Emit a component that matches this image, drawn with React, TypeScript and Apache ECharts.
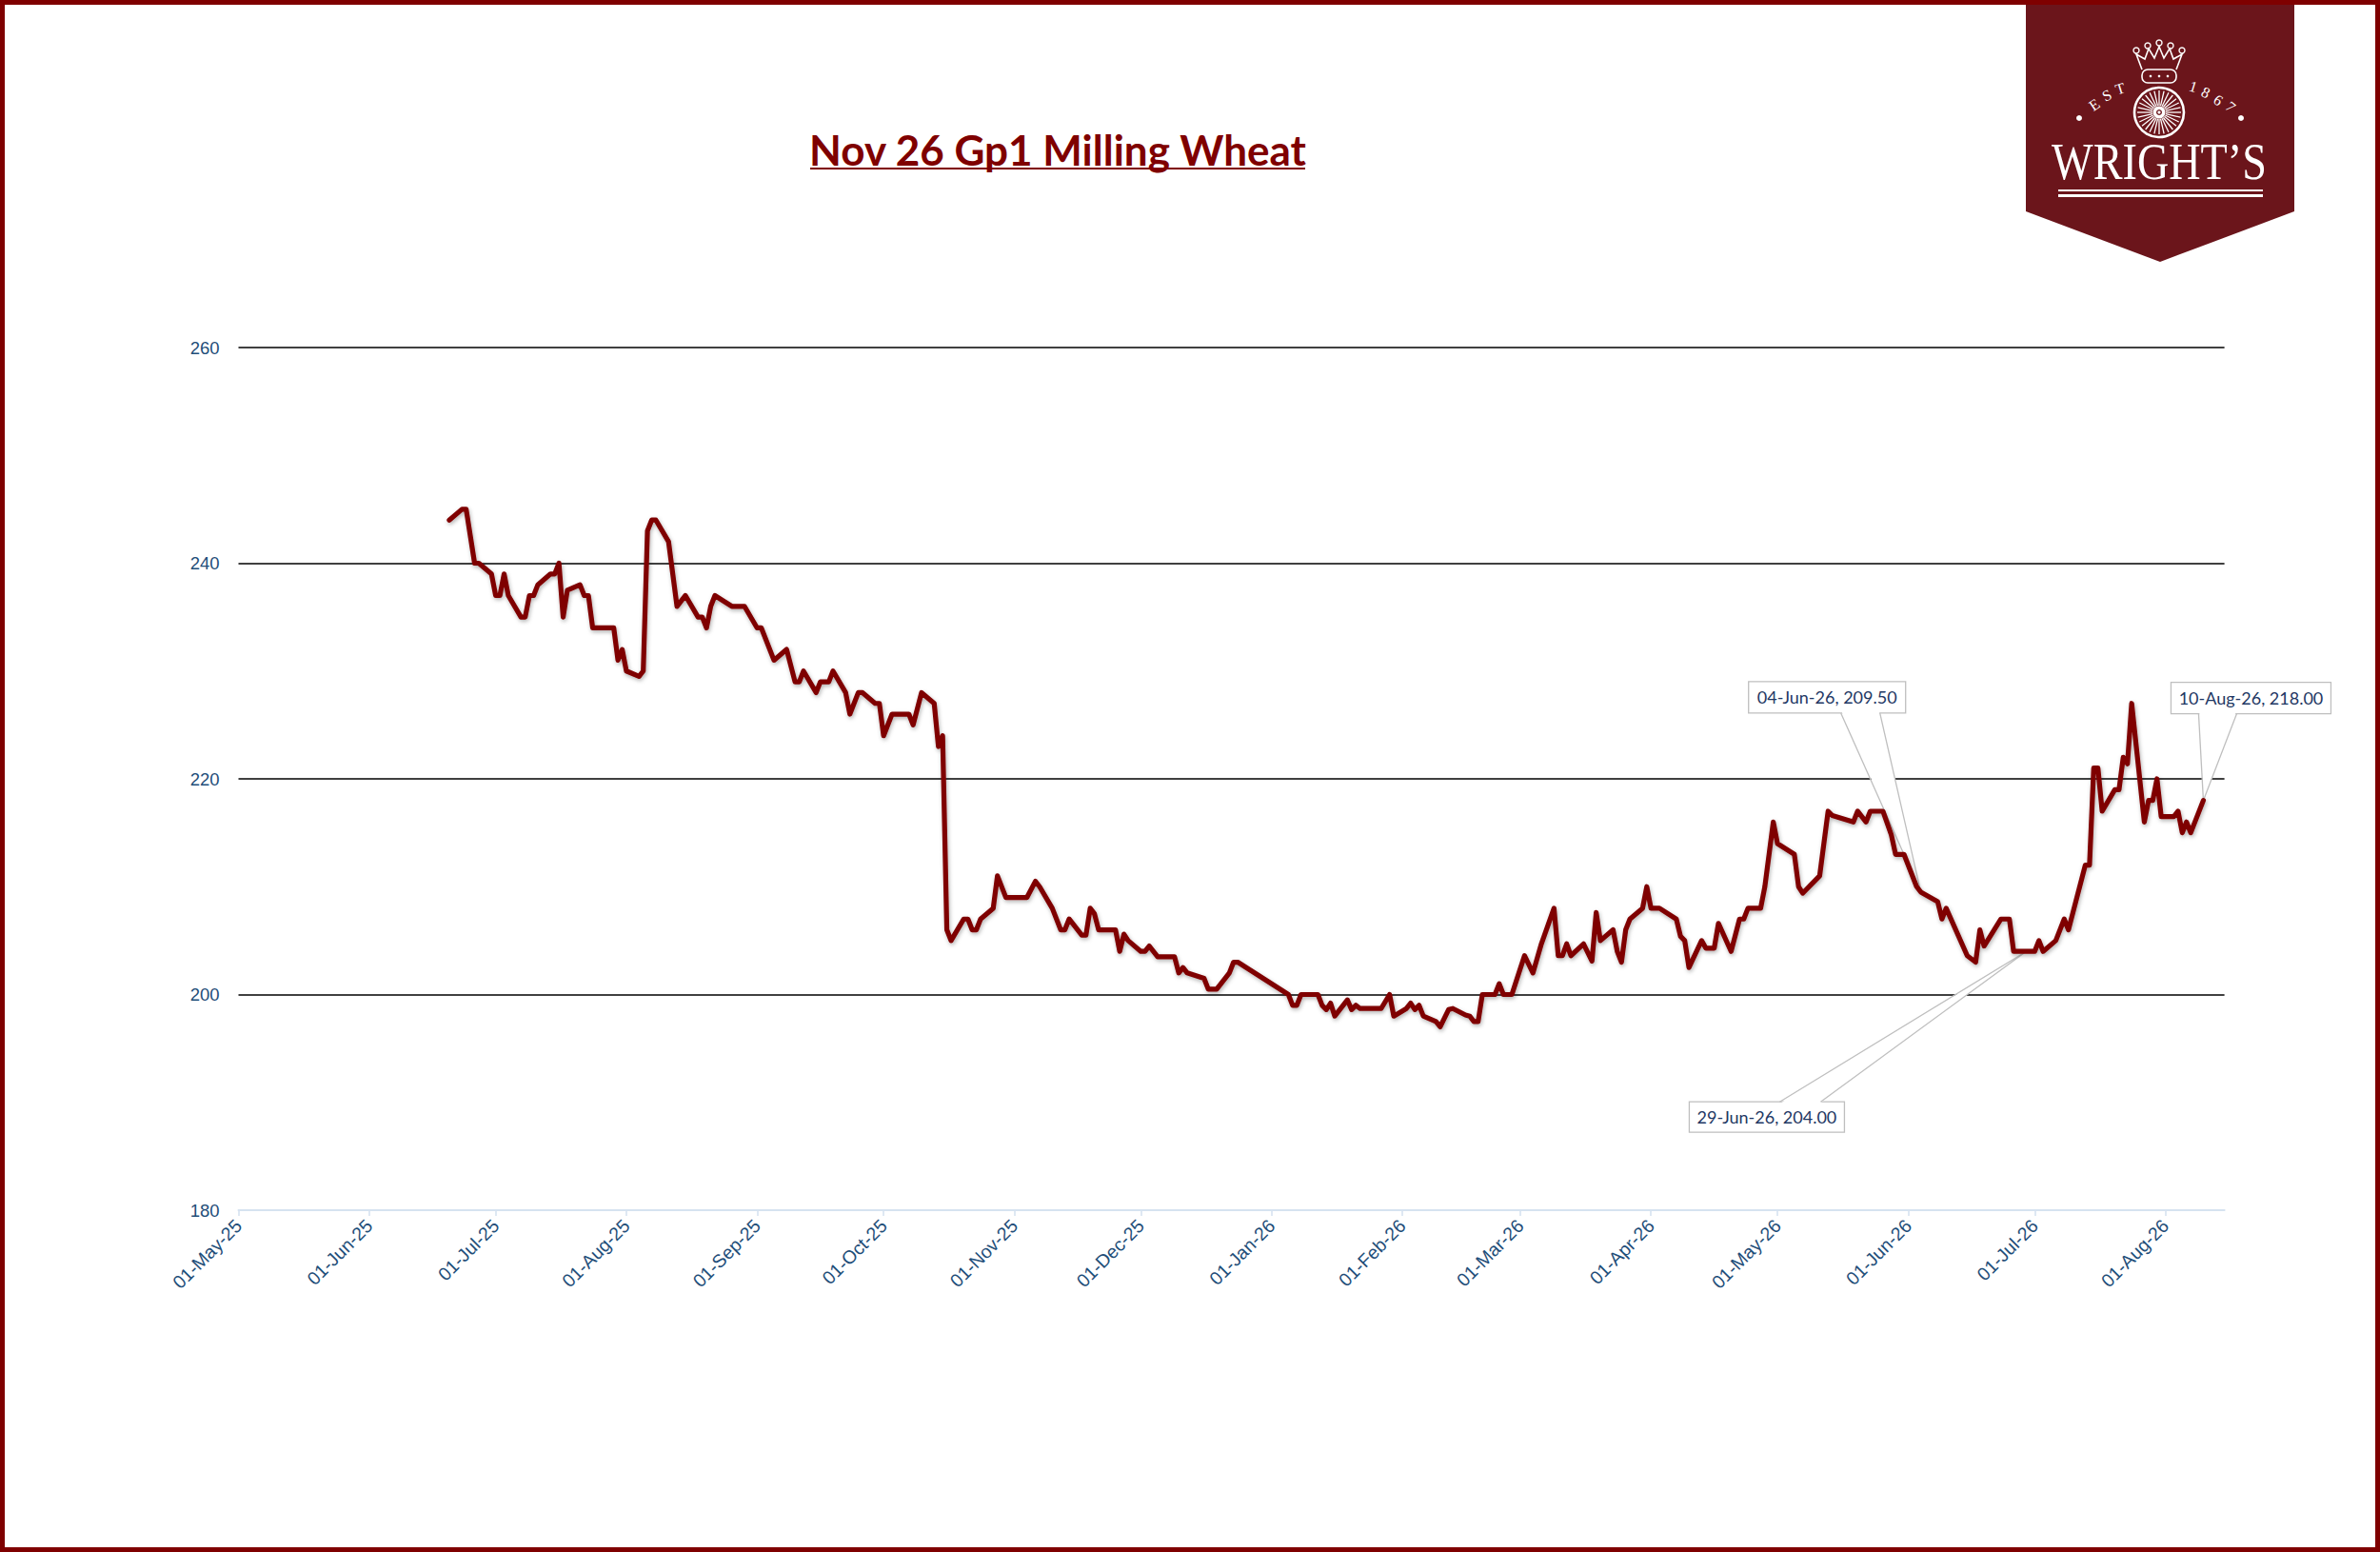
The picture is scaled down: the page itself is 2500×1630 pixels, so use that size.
import React, { useEffect, useRef } from "react";
import * as echarts from "echarts";

const TITLE = "Nov 26 Gp1 Milling Wheat";
const AXIS_MIN_DATE = "2025-05-01";
const AXIS_MAX_DATE = "2026-08-15";
const MONTH_TICKS = [
  "2025-05-01", "2025-06-01", "2025-07-01", "2025-08-01", "2025-09-01", "2025-10-01",
  "2025-11-01", "2025-12-01", "2026-01-01", "2026-02-01", "2026-03-01", "2026-04-01",
  "2026-05-01", "2026-06-01", "2026-07-01", "2026-08-01",
];
const Y_MIN = 180;
const Y_MAX = 260;
const Y_STEP = 20;

// [date, price] – Nov 26 Gp1 Milling Wheat
const PRICES_SUMMER_2025: [string, number][] = [
  ["2025-06-20", 244], ["2025-06-23", 245], ["2025-06-24", 245], ["2025-06-26", 240], ["2025-06-27", 240],
  ["2025-06-30", 239], ["2025-07-01", 237], ["2025-07-02", 237], ["2025-07-03", 239], ["2025-07-04", 237],
  ["2025-07-07", 235], ["2025-07-08", 235], ["2025-07-09", 237], ["2025-07-10", 237], ["2025-07-11", 238],
  ["2025-07-14", 239], ["2025-07-15", 239], ["2025-07-16", 240], ["2025-07-17", 235], ["2025-07-18", 237.5],
  ["2025-07-21", 238], ["2025-07-22", 237], ["2025-07-23", 237], ["2025-07-24", 234], ["2025-07-29", 234],
  ["2025-07-30", 231], ["2025-07-31", 232], ["2025-08-01", 230], ["2025-08-04", 229.5], ["2025-08-05", 230],
  ["2025-08-06", 243], ["2025-08-07", 244], ["2025-08-08", 244], ["2025-08-11", 242], ["2025-08-13", 236],
  ["2025-08-15", 237], ["2025-08-18", 235], ["2025-08-19", 235], ["2025-08-20", 234], ["2025-08-21", 236],
  ["2025-08-22", 237], ["2025-08-26", 236], ["2025-08-29", 236], ["2025-09-01", 234], ["2025-09-02", 234],
  ["2025-09-05", 231], ["2025-09-08", 232], ["2025-09-10", 229], ["2025-09-11", 229], ["2025-09-12", 230],
  ["2025-09-15", 228], ["2025-09-16", 229], ["2025-09-18", 229], ["2025-09-19", 230], ["2025-09-22", 228],
  ["2025-09-23", 226], ["2025-09-25", 228], ["2025-09-26", 228], ["2025-09-29", 227], ["2025-09-30", 227],
];
const PRICES_AUTUMN_2025: [string, number][] = [
  ["2025-10-01", 224], ["2025-10-03", 226], ["2025-10-07", 226], ["2025-10-08", 225], ["2025-10-10", 228],
  ["2025-10-13", 227], ["2025-10-14", 223], ["2025-10-15", 224], ["2025-10-16", 206], ["2025-10-17", 205],
  ["2025-10-20", 207], ["2025-10-21", 207], ["2025-10-22", 206], ["2025-10-23", 206], ["2025-10-24", 207],
  ["2025-10-27", 208], ["2025-10-28", 211], ["2025-10-30", 209], ["2025-11-04", 209], ["2025-11-06", 210.5],
  ["2025-11-07", 210], ["2025-11-10", 208], ["2025-11-12", 206], ["2025-11-13", 206], ["2025-11-14", 207],
  ["2025-11-17", 205.5], ["2025-11-18", 205.5], ["2025-11-19", 208], ["2025-11-20", 207.5], ["2025-11-21", 206],
  ["2025-11-25", 206], ["2025-11-26", 204], ["2025-11-27", 205.6], ["2025-11-28", 205], ["2025-12-01", 204],
  ["2025-12-02", 204], ["2025-12-03", 204.5], ["2025-12-05", 203.5], ["2025-12-09", 203.5], ["2025-12-10", 202],
  ["2025-12-11", 202.5], ["2025-12-12", 202], ["2025-12-16", 201.5], ["2025-12-17", 200.5], ["2025-12-19", 200.5],
  ["2025-12-22", 202], ["2025-12-23", 203], ["2025-12-24", 203],
];
const PRICES_WINTER_2026: [string, number][] = [
  ["2026-01-05", 200], ["2026-01-06", 199], ["2026-01-07", 199], ["2026-01-08", 200], ["2026-01-12", 200],
  ["2026-01-13", 199], ["2026-01-14", 198.6], ["2026-01-15", 199.2], ["2026-01-16", 198], ["2026-01-19", 199.5],
  ["2026-01-20", 198.6], ["2026-01-21", 199], ["2026-01-22", 198.7], ["2026-01-27", 198.7], ["2026-01-29", 200],
  ["2026-01-30", 198], ["2026-02-02", 198.7], ["2026-02-03", 199.2], ["2026-02-04", 198.6], ["2026-02-05", 199],
  ["2026-02-06", 198], ["2026-02-09", 197.5], ["2026-02-10", 197], ["2026-02-12", 198.6], ["2026-02-13", 198.7],
  ["2026-02-16", 198.1], ["2026-02-17", 198], ["2026-02-18", 197.5], ["2026-02-19", 197.5], ["2026-02-20", 200],
  ["2026-02-23", 200], ["2026-02-24", 201], ["2026-02-25", 200], ["2026-02-27", 200], ["2026-03-02", 203.6],
  ["2026-03-04", 202], ["2026-03-06", 204.7], ["2026-03-09", 208], ["2026-03-10", 203.6], ["2026-03-11", 203.6],
  ["2026-03-12", 204.7], ["2026-03-13", 203.6], ["2026-03-16", 204.7], ["2026-03-18", 203.1], ["2026-03-19", 207.6],
  ["2026-03-20", 205], ["2026-03-23", 206], ["2026-03-24", 204], ["2026-03-25", 203], ["2026-03-26", 206],
  ["2026-03-27", 207], ["2026-03-30", 208], ["2026-03-31", 210], ["2026-04-01", 208], ["2026-04-03", 208],
  ["2026-04-07", 207], ["2026-04-08", 205.4], ["2026-04-09", 205], ["2026-04-10", 202.5], ["2026-04-13", 205],
  ["2026-04-14", 204.3], ["2026-04-16", 204.3], ["2026-04-17", 206.6], ["2026-04-20", 204], ["2026-04-22", 207],
  ["2026-04-23", 207], ["2026-04-24", 208], ["2026-04-27", 208], ["2026-04-28", 210], ["2026-04-30", 216],
];
const PRICES_SUMMER_2026: [string, number][] = [
  ["2026-05-01", 214], ["2026-05-05", 213], ["2026-05-06", 210], ["2026-05-07", 209.4], ["2026-05-11", 211],
  ["2026-05-13", 217], ["2026-05-14", 216.6], ["2026-05-19", 216], ["2026-05-20", 217], ["2026-05-22", 216],
  ["2026-05-23", 217], ["2026-05-26", 217], ["2026-05-28", 214.8], ["2026-05-29", 213], ["2026-05-31", 213],
  ["2026-06-03", 210], ["2026-06-04", 209.5], ["2026-06-08", 208.6], ["2026-06-09", 207], ["2026-06-10", 208],
  ["2026-06-15", 203.6], ["2026-06-17", 203], ["2026-06-18", 206], ["2026-06-19", 204.5], ["2026-06-23", 207],
  ["2026-06-25", 207], ["2026-06-26", 204], ["2026-06-29", 204], ["2026-07-01", 204], ["2026-07-02", 205],
  ["2026-07-03", 204], ["2026-07-06", 205], ["2026-07-08", 207], ["2026-07-09", 206], ["2026-07-13", 212],
  ["2026-07-14", 212], ["2026-07-15", 221], ["2026-07-16", 221], ["2026-07-17", 217], ["2026-07-20", 219],
  ["2026-07-21", 219], ["2026-07-22", 222], ["2026-07-23", 221.4], ["2026-07-24", 227], ["2026-07-27", 216],
  ["2026-07-28", 218], ["2026-07-29", 218], ["2026-07-30", 220], ["2026-07-31", 216.5], ["2026-08-03", 216.5],
  ["2026-08-04", 217], ["2026-08-05", 215], ["2026-08-06", 216], ["2026-08-07", 215], ["2026-08-10", 218],
];

// data callouts
const CALLOUT_DATES = ["2026-06-04", "2026-06-29", "2026-08-10"];
const CALLOUT_VALUES = [209.5, 204, 218];

// callout box placement relative to the point (layout only)
const CALLOUT_LAYOUT = [
  { dx: -181, dy: -221, w: 165, h: 33, w0: -84, w1: -43, side: "bottom" },
  { dx: -354, dy: 158, w: 163, h: 32, w0: -259, w1: -216, side: "top" },
  { dx: -34, dy: -124, w: 168, h: 33, w0: -5, w1: 35, side: "bottom" },
];

const MONTHS = ["Jan", "Feb", "Mar", "Apr", "May", "Jun", "Jul", "Aug", "Sep", "Oct", "Nov", "Dec"];
const toTs = (s: string) => {
  const [y, m, d] = s.split("-").map(Number);
  return Date.UTC(y, m - 1, d);
};
const fmtDate = (ts: number) => {
  const d = new Date(ts);
  return String(d.getUTCDate()).padStart(2, "0") + "-" + MONTHS[d.getUTCMonth()] + "-" + String(d.getUTCFullYear()).slice(2);
};

const RED = "#7F0000";
const LOGO_RED = "#6B151B";
const AXIS_BLUE = "#1F4E79";
const LABEL_FONT = '"Liberation Sans", Arial, sans-serif';

function logoElements(): any[] {
  const els: any[] = [];
  els.push({
    type: "polygon",
    z: 50,
    silent: true,
    shape: { points: [[2128, 0], [2410, 0], [2410, 222], [2269, 275], [2128, 222]] },
    style: { fill: LOGO_RED },
  });
  // crown
  els.push({
    type: "polyline",
    z: 51,
    silent: true,
    shape: {
      points: [[2250, 73], [2244, 57], [2253, 62], [2257, 51], [2263, 61], [2268, 49], [2273, 61], [2279, 51], [2283, 62], [2292, 57], [2286, 73]],
    },
    style: { stroke: "#fff", lineWidth: 1.6, fill: "none" },
  });
  [[2244, 53], [2256, 48], [2268, 45], [2280, 48], [2292, 53]].forEach(([cx, cy]) =>
    els.push({ type: "circle", z: 51, silent: true, shape: { cx, cy, r: 3 }, style: { stroke: "#fff", lineWidth: 1.4, fill: "none" } })
  );
  els.push({
    type: "rect",
    z: 51,
    silent: true,
    shape: { x: 2250, y: 73, width: 36, height: 14, r: 6 },
    style: { stroke: "#fff", lineWidth: 1.6, fill: "none" },
  });
  [2259, 2268, 2277].forEach((cx) =>
    els.push({ type: "circle", z: 51, silent: true, shape: { cx, cy: 80, r: 1.3 }, style: { fill: "#fff" } })
  );
  // wheel
  const cx = 2268, cy = 118;
  els.push({ type: "circle", z: 51, silent: true, shape: { cx, cy, r: 26 }, style: { stroke: "#fff", lineWidth: 2.6, fill: "none" } });
  for (let i = 0; i < 28; i++) {
    const a = (i / 28) * Math.PI * 2;
    els.push({
      type: "line",
      z: 51,
      silent: true,
      shape: { x1: cx + Math.cos(a) * 7, y1: cy + Math.sin(a) * 7, x2: cx + Math.cos(a) * 23, y2: cy + Math.sin(a) * 23 },
      style: { stroke: "#fff", lineWidth: 1.3 },
    });
  }
  els.push({ type: "circle", z: 52, silent: true, shape: { cx, cy, r: 6.5 }, style: { fill: "#fff" } });
  els.push({ type: "circle", z: 53, silent: true, shape: { cx, cy, r: 3 }, style: { fill: LOGO_RED } });
  els.push({ type: "circle", z: 54, silent: true, shape: { cx, cy, r: 1.6 }, style: { fill: "#fff" } });
  // EST / 1867 letters
  const letters: [string, number, number, number][] = [
    ["E", 2200, 110, 0.6], ["S", 2213, 100, 0.45], ["T", 2227, 93, 0.3],
    ["1", 2304, 91, -0.3], ["8", 2317, 97, -0.45], ["6", 2330, 105, -0.58], ["7", 2343, 112, -0.7],
  ];
  letters.forEach(([t, x, y, rot]) =>
    els.push({
      type: "text",
      z: 51,
      silent: true,
      x,
      y,
      rotation: rot,
      style: { text: t, fill: "#fff", font: '16px "Liberation Serif", serif', align: "center", verticalAlign: "middle", textAlign: "center", textVerticalAlign: "middle" },
    })
  );
  [[2184, 124], [2354, 124]].forEach(([x, y]) =>
    els.push({ type: "circle", z: 51, silent: true, shape: { cx: x, cy: y, r: 3 }, style: { fill: "#fff" } })
  );
  els.push({
    type: "text",
    z: 51,
    silent: true,
    x: 2268,
    y: 170,
    scaleX: 0.84,
    style: {
      text: "WRIGHT\u2019S",
      fill: "#fff",
      font: '55px "Liberation Serif", serif',
      align: "center",
      verticalAlign: "middle",
      textAlign: "center",
      textVerticalAlign: "middle",
    },
  });
  els.push({ type: "line", z: 51, silent: true, shape: { x1: 2162, y1: 200, x2: 2377, y2: 200 }, style: { stroke: "#fff", lineWidth: 2 } });
  els.push({ type: "line", z: 51, silent: true, shape: { x1: 2162, y1: 205.5, x2: 2377, y2: 205.5 }, style: { stroke: "#fff", lineWidth: 2.8 } });
  return els;
}

export default function App() {
  const ref = useRef<HTMLDivElement>(null);

  useEffect(() => {
    document.body.style.margin = "0";
    document.body.style.overflow = "hidden";
    const chart = echarts.init(ref.current!, null, { renderer: "svg", width: 2500, height: 1630 });

    const allPrices = [...PRICES_SUMMER_2025, ...PRICES_AUTUMN_2025, ...PRICES_WINTER_2026, ...PRICES_SUMMER_2026];
    const seriesData = allPrices.map(([d, v]) => [toTs(d), v]);
    const tickTs = MONTH_TICKS.map(toTs);

    const staticGraphics: any[] = [
      {
        type: "text",
        z: 60,
        silent: true,
        x: 1111,
        y: 157,
        style: {
          text: TITLE,
          fill: RED,
          font: 'bold 44px Lato, "Open Sans", sans-serif',
          align: "center",
          verticalAlign: "middle",
          textAlign: "center",
          textVerticalAlign: "middle",
        },
      },
      { type: "line", z: 60, silent: true, shape: { x1: 851, y1: 177, x2: 1371, y2: 177 }, style: { stroke: RED, lineWidth: 2 } },
      ...logoElements(),
      {
        type: "rect",
        z: 100,
        silent: true,
        shape: { x: 2.5, y: 2.5, width: 2495, height: 1625 },
        style: { fill: "none", stroke: RED, lineWidth: 5 },
      },
    ];

    chart.setOption({
      animation: false,
      backgroundColor: "#ffffff",
      grid: { left: 250.5, right: 163.4, top: 365, bottom: 359, containLabel: false, outerBoundsMode: "none" },
      xAxis: {
        type: "value",
        min: toTs(AXIS_MIN_DATE),
        max: toTs(AXIS_MAX_DATE),
        axisLine: { show: true, onZero: false, lineStyle: { color: "#D6E3F0", width: 2 } },
        axisTick: { show: true, length: 6, customValues: tickTs, lineStyle: { color: "#D6E3F0", width: 1.6 } },
        axisLabel: {
          show: true,
          customValues: tickTs,
          rotate: 45,
          margin: 13,
          color: AXIS_BLUE,
          fontSize: 19.5,
          fontFamily: LABEL_FONT,
          hideOverlap: false,
          formatter: (v: number) => fmtDate(v),
        },
        splitLine: { show: false },
      },
      yAxis: {
        type: "value",
        min: Y_MIN,
        max: Y_MAX,
        interval: Y_STEP,
        axisLine: { show: false },
        axisTick: { show: false },
        axisLabel: { color: AXIS_BLUE, fontSize: 18.5, fontFamily: LABEL_FONT, margin: 20 },
        splitLine: { show: true, showMinLine: false, lineStyle: { color: "#000000", width: 1.5 } },
      },
      series: [
        {
          type: "line",
          data: seriesData,
          showSymbol: false,
          symbol: "none",
          silent: true,
          z: 2,
          lineStyle: {
            color: RED,
            width: 5.2,
            join: "round",
            cap: "round",
            shadowColor: "rgba(0,0,0,0.3)",
            shadowBlur: 4,
            shadowOffsetX: 1,
            shadowOffsetY: 2,
          },
        },
      ],
      graphic: { elements: staticGraphics },
    });

    const calloutGraphics: any[] = [];
    CALLOUT_DATES.forEach((d, i) => {
      const v = CALLOUT_VALUES[i];
      const L = CALLOUT_LAYOUT[i];
      const p = chart.convertToPixel({ xAxisIndex: 0, yAxisIndex: 0 }, [toTs(d), v]) as number[];
      const px = p[0], py = p[1];
      const bx = px + L.dx, by = py + L.dy;
      const baseY = L.side === "bottom" ? by + L.h : by;
      const inset = L.side === "bottom" ? -1.5 : 1.5;
      calloutGraphics.push({
        type: "rect",
        z: 1,
        silent: true,
        shape: { x: bx, y: by, width: L.w, height: L.h },
        style: { fill: "#ffffff", stroke: "#BFBFBF", lineWidth: 1.3 },
      });
      calloutGraphics.push({
        type: "polygon",
        z: 1.1,
        silent: true,
        shape: { points: [[px + L.w0 + 0.8, baseY + inset], [px + L.w1 - 0.8, baseY + inset], [px, py]] },
        style: { fill: "#ffffff" },
      });
      calloutGraphics.push({
        type: "polyline",
        z: 1.2,
        silent: true,
        shape: { points: [[px + L.w0, baseY], [px, py], [px + L.w1, baseY]] },
        style: { stroke: "#BFBFBF", lineWidth: 1.3, fill: "none" },
      });
      calloutGraphics.push({
        type: "text",
        z: 1.3,
        silent: true,
        x: bx + L.w / 2,
        y: by + L.h / 2,
        style: {
          text: fmtDate(toTs(d)) + ", " + v.toFixed(2),
          fill: "#1F3864",
          font: '18px Lato, "Liberation Sans", sans-serif',
          align: "center",
          verticalAlign: "middle",
          textAlign: "center",
          textVerticalAlign: "middle",
        },
      });
    });

    chart.setOption({ graphic: { elements: [...staticGraphics, ...calloutGraphics] } });

    return () => chart.dispose();
  }, []);

  return <div ref={ref} style={{ width: 2500, height: 1630 }} />;
}
